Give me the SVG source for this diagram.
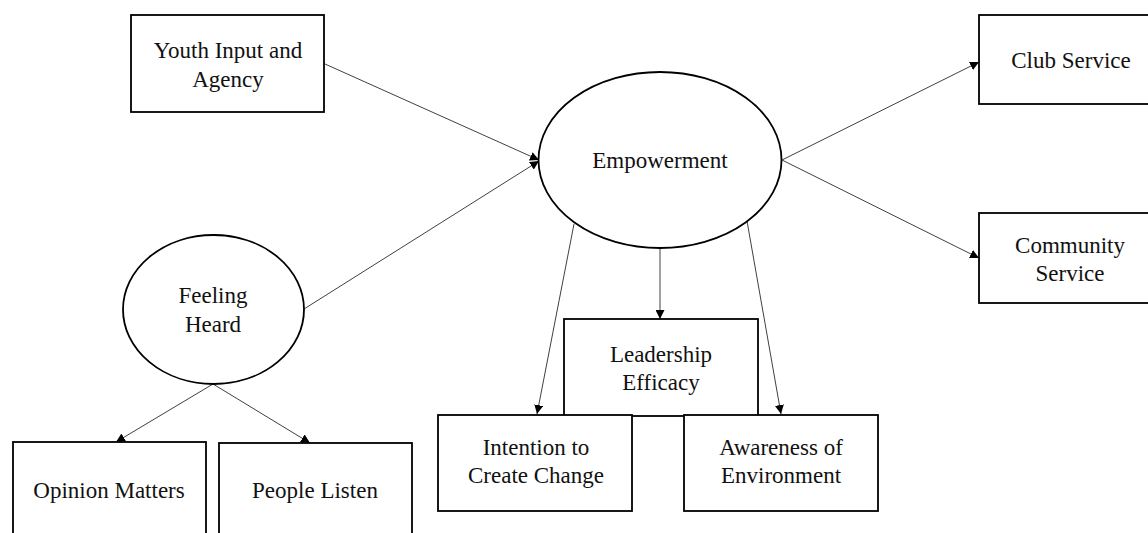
<svg xmlns="http://www.w3.org/2000/svg" width="1148" height="533" viewBox="0 0 1148 533">
  <style>
    .box { fill: #ffffff; stroke: #000000; stroke-width: 1.8; }
    .oval { fill: #ffffff; stroke: #000000; stroke-width: 1.8; }
    .lbl { font-family: "Liberation Serif", "Times New Roman", serif; font-size: 23px; fill: #111111; text-anchor: middle; }
    .edge { stroke: #404040; stroke-width: 1; fill: none; marker-end: url(#arrow); }
  </style>
  <defs>
    <marker id="arrow" viewBox="0 0 10 10" refX="10" refY="5" markerUnits="userSpaceOnUse" markerWidth="9" markerHeight="9" orient="auto">
      <path d="M0,0 L10,5 L0,10 Z" fill="#000000"/>
    </marker>
  </defs>
  <rect width="1148" height="533" fill="#ffffff"/>

  <!-- connectors -->
  <g id="connectors">
    <line class="edge" x1="325" y1="64" x2="539" y2="160"/>
    <line class="edge" x1="304" y1="309" x2="539" y2="161"/>
    <line class="edge" x1="782" y1="160" x2="979" y2="62"/>
    <line class="edge" x1="782" y1="160" x2="979" y2="258"/>
    <line class="edge" x1="660" y1="248" x2="660" y2="319"/>
    <line class="edge" x1="574" y1="224" x2="537" y2="414"/>
    <line class="edge" x1="747" y1="221" x2="781" y2="414"/>
    <line class="edge" x1="213" y1="384" x2="116" y2="442"/>
    <line class="edge" x1="213" y1="384" x2="310" y2="443"/>
  </g>

  <g id="youth-input">
    <rect class="box" x="131" y="15" width="193" height="97"/>
    <text class="lbl" x="228" y="58">Youth Input and</text>
    <text class="lbl" x="228" y="87">Agency</text>
  </g>

  <g id="empowerment">
    <ellipse class="oval" cx="660" cy="160" rx="121.5" ry="88"/>
    <text class="lbl" x="660" y="168">Empowerment</text>
  </g>

  <g id="feeling-heard">
    <ellipse class="oval" cx="213.5" cy="309.5" rx="90.5" ry="74.5"/>
    <text class="lbl" x="213" y="303">Feeling</text>
    <text class="lbl" x="213" y="332">Heard</text>
  </g>

  <g id="club-service">
    <rect class="box" x="979" y="15" width="180" height="89"/>
    <text class="lbl" x="1071" y="68">Club Service</text>
  </g>

  <g id="community-service">
    <rect class="box" x="979" y="213" width="180" height="90"/>
    <text class="lbl" x="1070" y="253">Community</text>
    <text class="lbl" x="1070" y="281">Service</text>
  </g>

  <g id="leadership-efficacy">
    <rect class="box" x="564" y="319" width="194" height="97"/>
    <text class="lbl" x="661" y="362">Leadership</text>
    <text class="lbl" x="661" y="390">Efficacy</text>
  </g>

  <g id="intention">
    <rect class="box" x="438" y="415" width="194" height="96"/>
    <text class="lbl" x="536" y="455">Intention to</text>
    <text class="lbl" x="536" y="483">Create Change</text>
  </g>

  <g id="awareness">
    <rect class="box" x="684" y="415" width="194" height="96"/>
    <text class="lbl" x="781" y="455">Awareness of</text>
    <text class="lbl" x="781" y="483">Environment</text>
  </g>

  <g id="opinion-matters">
    <rect class="box" x="13" y="442" width="193" height="110"/>
    <text class="lbl" x="109" y="498">Opinion Matters</text>
  </g>

  <g id="people-listen">
    <rect class="box" x="219" y="443" width="193" height="110"/>
    <text class="lbl" x="315" y="498">People Listen</text>
  </g>
</svg>
